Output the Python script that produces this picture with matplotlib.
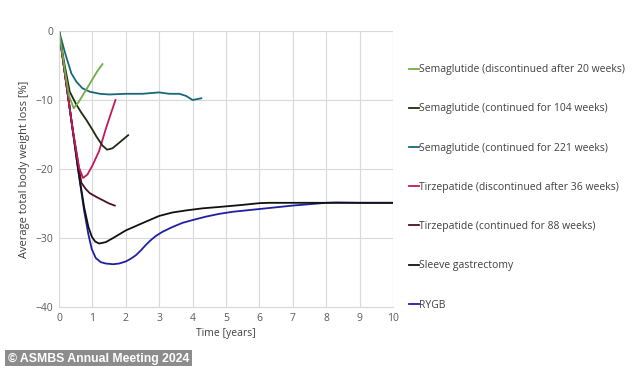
import matplotlib.pyplot as plt

plt.rcParams['font.family'] = ['Open Sans', 'DejaVu Sans']

# Data (time in years, weight change in %)
sema20_x = [0, 0.1, 0.2, 0.3, 0.44, 0.6, 0.8, 1.0, 1.15, 1.3]
sema20_y = [0, -3.2, -6.5, -9.4, -11.2, -10.2, -8.6, -7.0, -5.8, -4.8]

sema104_x = [0, 0.15, 0.32, 0.5, 0.65, 0.82, 1.0, 1.12, 1.3, 1.44, 1.6, 1.8, 2.07]
sema104_y = [0, -4.5, -8.8, -10.5, -11.7, -12.9, -14.3, -15.3, -16.6, -17.2, -17.0, -16.2, -15.1]

sema221_x = [0, 0.2, 0.37, 0.52, 0.7, 0.92, 1.22, 1.5, 2.0, 2.5, 3.0, 3.3, 3.6, 3.8, 4.0, 4.26]
sema221_y = [0, -3.5, -6.15, -7.35, -8.3, -8.8, -9.1, -9.2, -9.1, -9.1, -8.9, -9.1, -9.1, -9.4, -10.0, -9.75]

tirz36_x = [0, 0.2, 0.4, 0.6, 0.72, 0.85, 1.0, 1.2, 1.4, 1.55, 1.69]
tirz36_y = [0, -7, -14, -19.8, -21.3, -20.8, -19.5, -17.4, -14.2, -12.0, -10.0]

tirz88_x = [0, 0.2, 0.4, 0.6, 0.67, 0.8, 0.92, 1.1, 1.3, 1.5, 1.67]
tirz88_y = [0, -7, -14, -20, -22.0, -22.9, -23.5, -24.0, -24.5, -25.0, -25.3]

sleeve_x = [0, 0.2, 0.4, 0.57, 0.75, 0.88, 0.98, 1.08, 1.2, 1.4, 1.62, 2.0, 2.52, 3.0, 3.4, 3.81, 4.3, 4.8, 5.5, 6.0, 6.3, 7, 8, 10]
sleeve_y = [0, -7, -14, -20, -25.5, -28.4, -29.8, -30.5, -30.8, -30.6, -30.0, -28.9, -27.8, -26.8, -26.3, -26.0, -25.7, -25.5, -25.2, -24.95, -24.9, -24.9, -24.9, -24.9]

rygb_x = [0, 0.2, 0.4, 0.57, 0.75, 0.88, 0.98, 1.1, 1.25, 1.4, 1.62, 1.8, 2.0, 2.15, 2.3, 2.45, 2.6, 2.75, 2.9, 3.1, 3.4, 3.7, 4.0, 4.4, 4.8, 5.2, 6, 7, 8, 8.3, 9, 10]
rygb_y = [0, -7, -14, -20, -26, -29.5, -31.6, -32.9, -33.5, -33.7, -33.8, -33.7, -33.4, -33.0, -32.5, -31.8, -31.0, -30.3, -29.7, -29.1, -28.4, -27.8, -27.4, -26.9, -26.5, -26.2, -25.8, -25.3, -24.9, -24.85, -24.9, -24.9]

labels = [
    'Semaglutide (discontinued after 20 weeks)',
    'Semaglutide (continued for 104 weeks)',
    'Semaglutide (continued for 221 weeks)',
    'Tirzepatide (discontinued after 36 weeks)',
    'Tirzepatide (continued for 88 weeks)',
    'Sleeve gastrectomy',
    'RYGB',
]
colors = ['#70ad47', '#1e2b10', '#17687a', '#c2185b', '#4d0f26', '#111111', '#1f1fa3']
series = [
    (sema20_x, sema20_y), (sema104_x, sema104_y), (sema221_x, sema221_y),
    (tirz36_x, tirz36_y), (tirz88_x, tirz88_y), (sleeve_x, sleeve_y), (rygb_x, rygb_y),
]

fig = plt.figure(figsize=(6.34, 3.66), dpi=100)
ax = fig.add_axes([0.0931, 0.1612, 0.5268, 0.7541])

# draw surgery lines first so the drug lines sit on top, but keep legend order
order = [6, 5, 4, 3, 2, 1, 0]
handles = {}
for i in order:
    xs, ys = series[i]
    handles[i], = ax.plot(xs, ys, color=colors[i], lw=1.3, label=labels[i])

ax.set_xlim(0, 10)
ax.set_ylim(-40, 0)
ax.set_xticks(range(0, 11))
ax.set_yticks([0, -10, -20, -30, -40])
ax.grid(True, color='#d9d9d9', lw=0.8)
ax.set_axisbelow(True)
for s in ['top', 'right']:
    ax.spines[s].set_visible(False)
for s in ['left', 'bottom']:
    ax.spines[s].set_color('#d9d9d9')
ax.tick_params(length=0, labelsize=7.5, colors='#595959', pad=4)
ax.set_xlabel('Time [years]', fontsize=7.5, color='#404040', labelpad=3)
ax.set_ylabel('Average total body weight loss [%]', fontsize=8, color='#404040', labelpad=4)

fig.legend([handles[i] for i in range(7)], labels, loc='upper left',
           bbox_to_anchor=(405 / 634, 1 - 60 / 366), frameon=False,
           fontsize=7.5, handlelength=0.9, handletextpad=0.05,
           labelspacing=2.71, borderaxespad=0, labelcolor='#404040')

fig.text(0.012, 0.012, '\u00a9 ASMBS Annual Meeting 2024', fontsize=8.8,
         fontweight='bold', color='white', family='Liberation Sans',
         bbox=dict(facecolor='#8c8c8c', edgecolor='none', pad=2.2))

fig.savefig('out.png', dpi=100, facecolor='white')
